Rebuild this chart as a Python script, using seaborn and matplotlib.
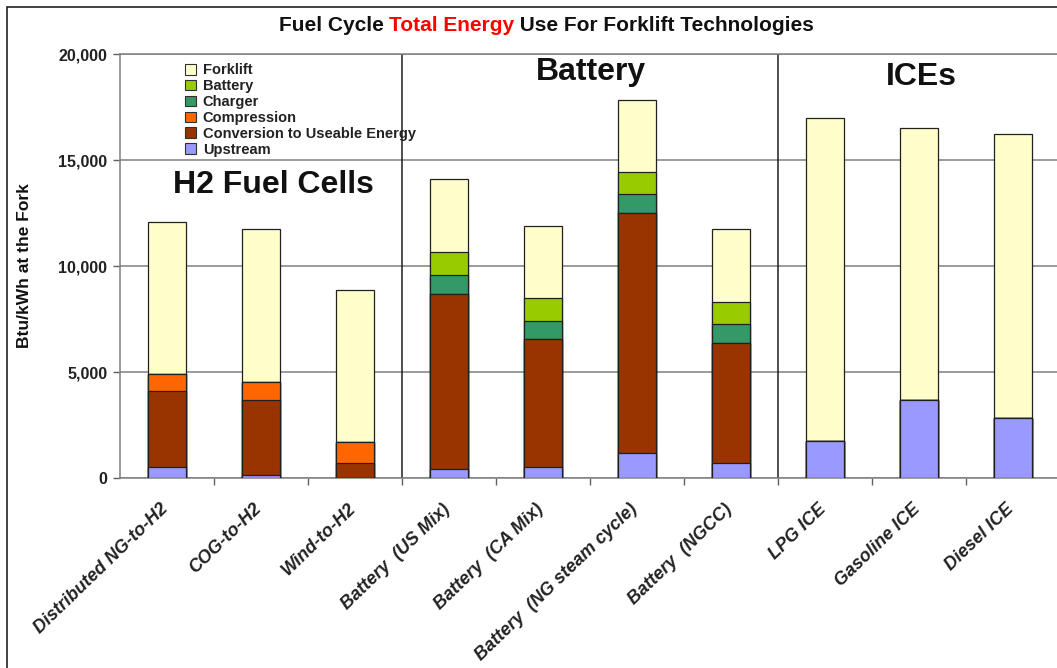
import numpy as np
import pandas as pd
import matplotlib
matplotlib.use("Agg")
import matplotlib.pyplot as plt
import seaborn as sns
from matplotlib.patches import Patch, Rectangle

# values (Btu/kWh at the fork)
technologies = ["Distributed NG-to-H2", "COG-to-H2", "Wind-to-H2",
                "Battery  (US Mix)", "Battery  (CA Mix)", "Battery  (NG steam cycle)",
                "Battery  (NGCC)", "LPG ICE", "Gasoline ICE", "Diesel ICE"]
upstream    = [530, 140, 0, 420, 530, 1160, 720, 1750, 3680, 2850]
conversion  = [3570, 3540, 690, 8260, 6030, 11360, 5660, 0, 0, 0]
compression = [800, 860, 1010, 0, 0, 0, 0, 0, 0, 0]
charger     = [0, 0, 0, 900, 830, 880, 870, 0, 0, 0]
battery     = [0, 0, 0, 1100, 1080, 1050, 1070, 0, 0, 0]
forklift    = [7200, 7190, 7170, 3410, 3420, 3380, 3410, 15220, 12810, 13360]

components = ["Upstream", "Conversion to Useable Energy", "Compression",
              "Charger", "Battery", "Forklift"]
colors = {"Upstream": "#9999FF", "Conversion to Useable Energy": "#993300",
          "Compression": "#FF6600", "Charger": "#339966",
          "Battery": "#99CC00", "Forklift": "#FFFFCC"}

df = pd.DataFrame({"Technology": technologies, "Upstream": upstream,
                   "Conversion to Useable Energy": conversion,
                   "Compression": compression, "Charger": charger,
                   "Battery": battery, "Forklift": forklift})
cum = df[components].cumsum(axis=1)
cum["Technology"] = df["Technology"]

sns.set_theme(style="white")
plt.rcParams["font.family"] = ["Liberation Sans", "DejaVu Sans"]

fig = plt.figure(figsize=(10.57, 6.68), dpi=100)
ax = fig.add_axes([0.1135, 0.2844, 0.8893, 0.6347])

# stacked bars: draw cumulative totals from the top layer down
for comp in reversed(components):
    sns.barplot(data=cum, x="Technology", y=comp, color=colors[comp],
                saturation=1, width=0.4, edgecolor="#202020", linewidth=0.9,
                ax=ax, zorder=3)

ax.set_xlim(-0.5, 9.5)
ax.set_ylim(0, 20000)
ax.set_yticks([0, 5000, 10000, 15000, 20000])
ax.set_yticklabels([f"{v:,}" for v in [0, 5000, 10000, 15000, 20000]],
                   fontsize=11.5, fontweight="bold", color="#222222")
ax.yaxis.grid(True, color="#808080", linewidth=1.1)
ax.set_axisbelow(True)

# tick marks between bars, labels under bar centres
ax.set_xticks(np.arange(0.5, 9.5, 1.0))
ax.set_xticklabels([])
ax.set_xticks(np.arange(10) - 0.08, minor=True)
ax.set_xticklabels(technologies, minor=True, rotation=44, ha="right",
                   rotation_mode="anchor", fontsize=13, fontweight="bold",
                   fontstyle="italic", color="#222222")
ax.tick_params(axis="x", which="minor", length=0, pad=16)
ax.tick_params(axis="x", which="major", length=5, width=1, color="#606060",
               direction="out", bottom=True)
ax.tick_params(axis="y", length=5, width=1, color="#606060", left=True,
               direction="out", pad=4)
ax.set_xlabel("")
ax.set_ylabel("Btu/kWh at the Fork", fontsize=12.5, fontweight="bold",
              labelpad=19, color="#111111")

for side in ["left", "bottom", "top", "right"]:
    ax.spines[side].set_color("#808080")
    ax.spines[side].set_linewidth(1.1)
ax.spines["right"].set_visible(False)

# group separators
for xs in [2.5, 6.5]:
    ax.axvline(xs, color="#202020", linewidth=1.1, zorder=2)

ax.text(1.13, 13800, "H2 Fuel Cells", fontsize=23, fontweight="bold",
        ha="center", va="center", color="#111111", zorder=4)
ax.text(4.51, 19150, "Battery", fontsize=23, fontweight="bold",
        ha="center", va="center", color="#111111", zorder=4)
ax.text(8.03, 18900, "ICEs", fontsize=23, fontweight="bold",
        ha="center", va="center", color="#111111", zorder=4)

handles = [Patch(facecolor=colors[c], edgecolor="#303030", linewidth=0.8, label=c)
           for c in reversed(components)]
leg = ax.legend(handles=handles, loc="upper left", bbox_to_anchor=(0.061, 0.997),
                frameon=False, fontsize=10.5, handlelength=0.75, handleheight=0.75,
                handletextpad=0.45, labelspacing=0.13, borderaxespad=0.15)
for t in leg.get_texts():
    t.set_fontweight("bold")
    t.set_color("#222222")

# title with red middle part
renderer = fig.canvas.get_renderer()
parts = [("Fuel Cycle ", "#111111"), ("Total Energy", "#FF0000"),
         (" Use For Forklift Technologies", "#111111")]
texts = [fig.text(0, 0.9625, p, color=c, fontsize=15, fontweight="bold",
                  va="center") for p, c in parts]
widths = [t.get_window_extent(renderer).width / fig.bbox.width for t in texts]
x0 = 0.517 - sum(widths) / 2
for t, w in zip(texts, widths):
    t.set_x(x0)
    x0 += w

# outer frame of the picture
fig.patches.append(Rectangle((0.007, -0.01), 1.2, 1.0 - 0.007 + 0.01 - 0.004,
                             transform=fig.transFigure, fill=False,
                             edgecolor="#202020", linewidth=1.2))

fig.savefig("out.png", dpi=100)
